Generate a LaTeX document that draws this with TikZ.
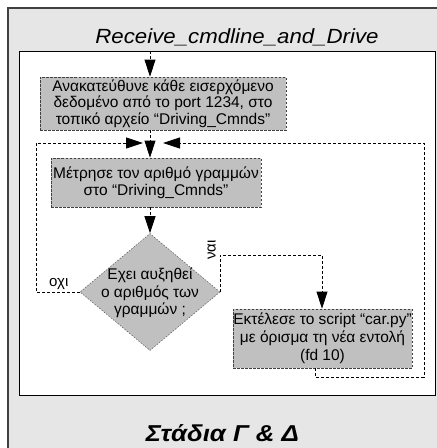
\documentclass[tikz,border=0pt]{standalone}
\usepackage{fontspec}
\setmainfont{Liberation Sans}
\usetikzlibrary{arrows.meta,shapes.geometric}
\definecolor{outerbg}{HTML}{E6E6E6}
\definecolor{boxfill}{HTML}{C0C0C0}
\definecolor{frameline}{HTML}{404040}
\tikzset{
  stepbox/.style={draw=black!75, fill=boxfill, dash pattern=on 2.5pt off 1.5pt, line width=0.8pt, inner sep=0pt, align=center},
  flow/.style={draw=black, dash pattern=on 3pt off 2pt, line width=0.8pt},
  tip/.style={-{Triangle[length=17pt,width=11pt]}},
  lbl/.style={font=\fontsize{15}{17}\selectfont, inner sep=0pt}
}
\begin{document}
\begin{tikzpicture}[x=1pt,y=-1pt]
\useasboundingbox (0,0) rectangle (437,448);
% outer frame
\fill[white] (0,0) rectangle (437,448);
\fill[outerbg] (8,8) rectangle (437,448);
\draw[frameline, line width=1.4pt] (8,448) -- (8,8) -- (437,8);
\node[font=\fontsize{20.5}{24}\selectfont\itshape, inner sep=0pt, xscale=1.085] (title) at (237,37) {Receive\_cmdline\_and\_Drive};
% inner area
\draw[fill=white, line width=1pt] (19,51) rectangle (435.5,395.5);
\node[font=\fontsize{23}{26}\selectfont\bfseries\itshape, inner sep=0pt, xscale=1.12] (stage) at (222.5,433) {Στάδια Γ \& Δ};
% boxes
\node[stepbox, font=\fontsize{15.5}{16.5}\selectfont, minimum width=246pt, minimum height=53pt] (b1) at (163,103.5) {Ανακατεύθυνε κάθε εισερχόμενο\\δεδομένο από το port 1234, στο\\τοπικό αρχείο “Driving\_Cmnds”};
\node[stepbox, font=\fontsize{15.5}{17}\selectfont, minimum width=210pt, minimum height=49pt] (b2) at (156,182.5) {Μέτρησε τον αριθμό γραμμών\\στο “Driving\_Cmnds”};
\node[diamond, fill=boxfill, draw=black!60, dash pattern=on 1.5pt off 1.5pt, line width=0.6pt, minimum width=140pt, minimum height=117pt, inner sep=0pt] (d) at (150,292) {};
\node[align=center, font=\fontsize{15.5}{17.5}\selectfont, inner sep=0pt] (dt) at (150,293) {Εχει αυξηθεί\\ο αριθμός των\\γραμμών ;};
\node[stepbox, font=\fontsize{15.5}{18}\selectfont, minimum width=179pt, minimum height=59pt] (b3) at (322.5,338.5) {Εκτέλεσε το script “car.py”\\με όρισμα τη νέα εντολή\\(fd 10)};
% coordinates
\coordinate (in) at (150,51);
\coordinate (ml) at (143,143);
\coordinate (mr) at (163,143);
\coordinate (lc) at (36,143);
\coordinate (rc) at (424,143);
\coordinate (yc) at (322,255);
\coordinate (r3) at (315,377);
% connectors
\draw[flow, tip] (in) -- (in |- b1.north);
\draw[flow, tip] (b1.south -| in) -- (b2.north -| in);
\draw[flow, tip] (b2.south -| in) -- (d.north);
\draw[flow, tip] (d.west) -| (lc) -- (ml);
\draw[flow, tip] (r3 |- b3.south) -- (r3) -| (rc) -- (mr);
\draw[flow, tip] (d.east) |- (yc) -- (yc |- b3.north);
% labels
\node[lbl, anchor=south west] (no) at (49,290) {οχι};
\node[lbl, rotate=90, anchor=south] (yes) at (216,250) {ναι};
\end{tikzpicture}
\end{document}
